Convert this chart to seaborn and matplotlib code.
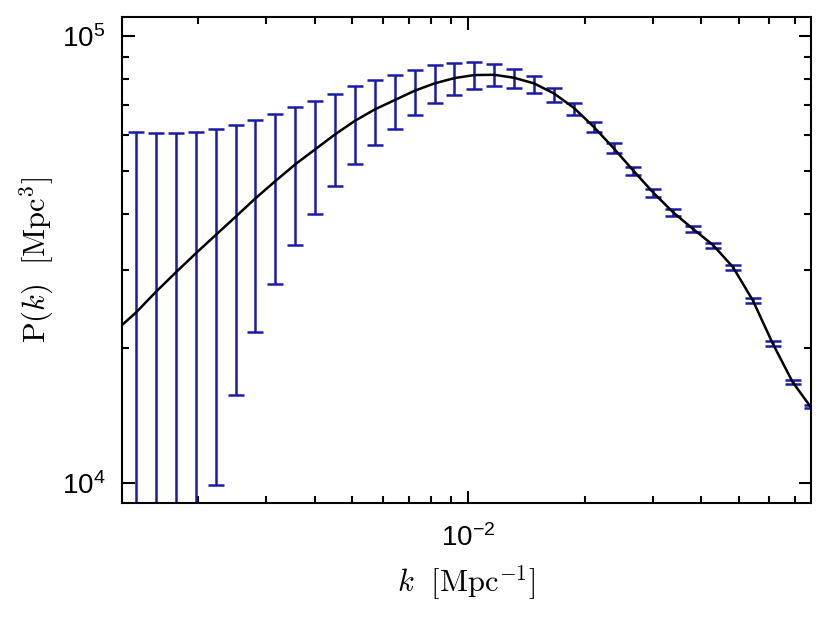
import numpy as np
import pandas as pd
import matplotlib
matplotlib.use("Agg")
import matplotlib.pyplot as plt
import seaborn as sns

# ---- data ----
k_bins = [1.382e-3, 1.555e-3, 1.751e-3, 1.971e-3, 2.219e-3, 2.498e-3, 2.812e-3,
          3.166e-3, 3.564e-3, 4.012e-3, 4.519e-3, 5.087e-3, 5.726e-3, 6.447e-3,
          7.257e-3, 8.171e-3, 9.200e-3, 1.0356e-2, 1.1660e-2, 1.3124e-2, 1.4777e-2,
          1.6637e-2, 1.8729e-2, 2.1086e-2, 2.3734e-2, 2.6722e-2, 3.0086e-2,
          3.3866e-2, 3.8130e-2, 4.2921e-2, 4.8323e-2, 5.4404e-2, 6.1236e-2,
          6.8944e-2, 7.762e-2]
pk_mean = [2.409e4, 2.679e4, 2.961e4, 3.265e4, 3.588e4, 3.941e4, 4.335e4,
           4.738e4, 5.164e4, 5.578e4, 6.027e4, 6.464e4, 6.855e4, 7.192e4,
           7.545e4, 7.838e4, 8.054e4, 8.181e4, 8.193e4, 8.067e4, 7.80e4,
           7.38e4, 6.88e4, 6.267e4, 5.616e4, 4.996e4, 4.462e4, 4.032e4,
           3.700e4, 3.408e4, 3.043e4, 2.563e4, 2.053e4, 1.683e4, 1.482e4]
pk_err = [3.70e4, 3.38e4, 3.10e4, 2.84e4, 2.60e4, 2.37e4, 2.155e4,
          1.95e4, 1.76e4, 1.575e4, 1.40e4, 1.28e4, 1.14e4, 1.00e4,
          8.7e3, 7.6e3, 6.55e3, 5.6e3, 4.65e3, 3.95e3, 3.3e3,
          2.55e3, 2.13e3, 1.6e3, 1.36e3, 1.08e3, 8.7e2, 7.3e2,
          5.3e2, 4.4e2, 3.9e2, 2.9e2, 2.6e2, 1.9e2, 1.3e2]

k_model = [1.27e-3] + k_bins[:-1] + [7.70e-2]
pk_model = [2.257e4, 2.409e4, 2.679e4, 2.961e4, 3.265e4, 3.588e4, 3.941e4, 4.335e4,
            4.738e4, 5.164e4, 5.578e4, 6.027e4, 6.464e4, 6.855e4, 7.192e4,
            7.545e4, 7.838e4, 8.054e4, 8.181e4, 8.193e4, 8.067e4, 7.838e4,
            7.443e4, 6.912e4, 6.267e4, 5.616e4, 4.996e4, 4.462e4, 4.032e4,
            3.700e4, 3.408e4, 3.043e4, 2.563e4, 2.053e4, 1.683e4, 1.475e4]

x_limits = (1.27e-3, 7.69e-2)
y_limits = (9.02e3, 1.103e5)

# ---- style ----
sns.set_theme(style="ticks")
plt.rcParams["font.family"] = ["Liberation Sans", "DejaVu Sans"]
plt.rcParams["mathtext.fontset"] = "custom"
plt.rcParams["mathtext.rm"] = "Liberation Sans"
plt.rcParams["mathtext.it"] = "Liberation Sans:italic"

fig = plt.figure(figsize=(8.3, 6.23), dpi=100)
ax = fig.add_axes([0.147, 0.1926, 0.83, 0.78])

model_df = pd.DataFrame({"k": k_model, "pk": pk_model})
data_df = pd.DataFrame({"k": k_bins, "pk": pk_mean, "err": pk_err})

ax.errorbar(data_df["k"], data_df["pk"], yerr=data_df["err"], fmt="none",
            ecolor="#1a1aaa", elinewidth=1.8, capsize=5.5, capthick=1.8,
            zorder=2)
sns.lineplot(data=model_df, x="k", y="pk", ax=ax, color="black", lw=1.8,
             sort=False, estimator=None, zorder=3)

ax.set_xscale("log")
ax.set_yscale("log")
ax.set_xlim(*x_limits)
ax.set_ylim(*y_limits)

ax.xaxis.set_major_locator(matplotlib.ticker.LogLocator(base=10, numticks=10))
ax.xaxis.set_minor_locator(matplotlib.ticker.LogLocator(base=10, subs=np.arange(2, 10), numticks=20))
ax.yaxis.set_minor_locator(matplotlib.ticker.LogLocator(base=10, subs=np.arange(2, 10), numticks=20))
ax.xaxis.set_minor_formatter(matplotlib.ticker.NullFormatter())
ax.yaxis.set_minor_formatter(matplotlib.ticker.NullFormatter())

ax.tick_params(which="both", direction="in", top=True, right=True,
               colors="black", width=1.5)
ax.tick_params(which="major", length=9, labelsize=20)
ax.tick_params(axis="x", which="major", pad=15)
ax.tick_params(axis="y", which="major", pad=12)
ax.tick_params(which="minor", length=5)
for s in ax.spines.values():
    s.set_linewidth(1.5)
    s.set_color("black")

ax.set_xlabel(r"$k\ \ [\mathrm{Mpc}^{-1}]$", fontsize=22, math_fontfamily="cm",
              labelpad=8, color="black")
ax.set_ylabel(r"$\mathrm{P}(k)\ \ [\mathrm{Mpc}^{3}]$", fontsize=22,
              math_fontfamily="cm", labelpad=4, color="black")

fig.savefig("out.png", dpi=100, facecolor="white")
